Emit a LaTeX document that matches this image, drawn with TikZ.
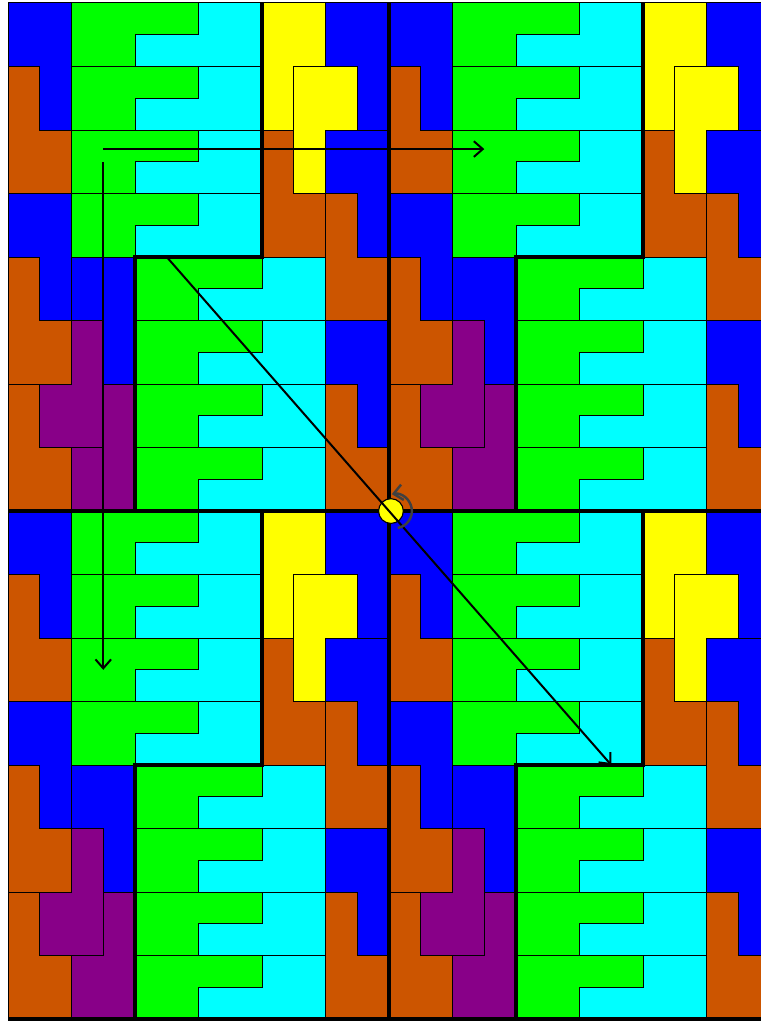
\documentclass[tikz,border=0pt]{standalone}
\usetikzlibrary{arrows.meta}
\definecolor{tileblue}{RGB}{0,0,255}
\definecolor{tilegreen}{RGB}{0,255,0}
\definecolor{tilecyan}{RGB}{0,255,255}
\definecolor{tileyellow}{RGB}{255,255,0}
\definecolor{tileorange}{RGB}{204,85,0}
\definecolor{tilepurple}{RGB}{136,0,136}
\definecolor{rotgray}{RGB}{64,64,64}
\begin{document}
\begin{tikzpicture}[x=1cm,y=-1cm,
  tile/.style={draw=black,line width=0.45pt},
  seam/.style={line width=1.8pt},
  shiftarrow/.style={-{Straight Barb[length=4pt,width=7pt]},line width=0.9pt},
  rotdot/.style={circle,draw=black,fill=tileyellow,line width=0.5pt,minimum size=0.39cm,inner sep=0pt},
  rotarrow/.style={-{Straight Barb[length=4pt,width=7pt]},line width=1.1pt,rotgray}]
\useasboundingbox (-0.126,-0.047) rectangle (11.855,16.03);
\clip (-0.126,-0.047) rectangle (11.855,16.03);
% four copies of the 6x8 cell
\foreach \px/\py in {0/0,6/0,0/8,6/8}{
\begin{scope}[shift={(\px,\py)}]
\foreach \k/\s in {0/1,1/1,2/1,3/1,4/2,5/2,6/2,7/2}{
  \filldraw[tile,fill=tilegreen] (\s,\k) -- ++(2,0) -- ++(0,0.5) -- ++(-1,0) -- ++(0,0.5) -- ++(-1,0) -- cycle;
  \filldraw[tile,fill=tilecyan] (\s+2,\k) -- ++(1,0) -- ++(0,1) -- ++(-2,0) -- ++(0,-0.5) -- ++(1,0) -- cycle;
}
\foreach \a/\b in {0/0,0/3,1/4,5/0,5/2,5/5}
  \filldraw[tile,fill=tileblue,shift={(\a,\b)}] (0,0) -- (1,0) -- (1,2) -- (0.5,2) -- (0.5,1) -- (0,1) -- cycle;
\foreach \a/\b in {0/1,0/4,0/6,4/2,5/3,5/6}
  \filldraw[tile,fill=tileorange,shift={(\a,\b)}] (0,0) -- (0.5,0) -- (0.5,1) -- (1,1) -- (1,2) -- (0,2) -- cycle;
\filldraw[tile,fill=tileyellow] (4,0) -- (5,0) -- (5,1) -- (4.5,1) -- (4.5,2) -- (4,2) -- cycle;
\filldraw[tile,fill=tileyellow] (4.5,1) -- (5.5,1) -- (5.5,2) -- (5,2) -- (5,3) -- (4.5,3) -- cycle;
\filldraw[tile,fill=tilepurple] (1,5) -- (1.5,5) -- (1.5,7) -- (0.5,7) -- (0.5,6) -- (1,6) -- cycle;
\filldraw[tile,fill=tilepurple] (1.5,6) -- (2,6) -- (2,8) -- (1,8) -- (1,7) -- (1.5,7) -- cycle;
% cell outline
\draw[seam] (4,0) -- (4,4) -- (2,4) -- (2,8);
\end{scope}}
\draw[seam] (6,0) -- (6,16.2);
\draw[seam] (0,8) -- (12.2,8);
\draw[seam] (0,16) -- (12.2,16);
% translations and the half turn
\coordinate (hstart) at (1.5,2.3);
\coordinate (hend) at (7.5,2.3);
\coordinate (vstart) at (1.5,2.5);
\coordinate (vend) at (1.5,10.5);
\coordinate (dstart) at (2.5,4);
\coordinate (dend) at (9.5,12);
\node[rotdot] (rotc) at (6.03,8) {};
\coordinate (rotmid) at (6.09,8);
\draw[shiftarrow] (hstart) -- (hend);
\draw[shiftarrow] (vstart) -- (vend);
\draw[shiftarrow] (dstart) -- (dend);
\draw[rotarrow] ([shift={(80:0.27)}]rotmid) arc[start angle=80,end angle=-100,radius=0.27];
\end{tikzpicture}
\end{document}
